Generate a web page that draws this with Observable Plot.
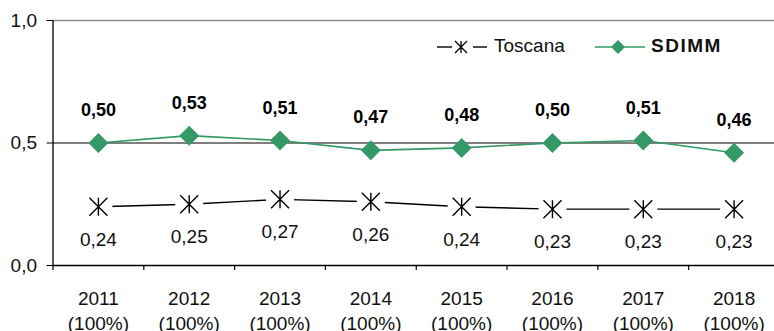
<!DOCTYPE html>
<html><head><meta charset="utf-8">
<script src="https://cdn.jsdelivr.net/npm/d3@7"></script>
<script src="https://cdn.jsdelivr.net/npm/@observablehq/plot@0.6"></script>
<style>
body{margin:0;background:#fff;}
#wrap{position:relative;width:774px;height:331px;overflow:hidden;font-family:"Liberation Sans",Arial,sans-serif;color:#111;}
.lg{position:absolute;font-size:19px;line-height:22px;white-space:nowrap;}
</style></head><body>
<div id="wrap">
  <svg class="lg" style="left:437px;top:39px" width="52" height="16">
    <line x1="0" y1="8" x2="15" y2="8" stroke="#000" stroke-width="1.4"/>
    <path d="M18,2L30,14M30,2L18,14M24,2L24,14" stroke="#000" stroke-width="1.3" fill="none"/>
    <line x1="36" y1="8" x2="50" y2="8" stroke="#000" stroke-width="1.4"/>
  </svg>
  <div class="lg" style="left:494px;top:35px">Toscana</div>
  <svg class="lg" style="left:595px;top:39px" width="52" height="16">
    <line x1="0" y1="8" x2="50" y2="8" stroke="#339966" stroke-width="1.6"/>
    <path d="M23,1L30,8L23,15L16,8Z" fill="#339966"/>
  </svg>
  <div class="lg" style="left:651px;top:35px;font-weight:bold;letter-spacing:1.5px">SDIMM</div>
</div>
<script>
const years = ["2011","2012","2013","2014","2015","2016","2017","2018"];
const coverage = ["(100%)","(100%)","(100%)","(100%)","(100%)","(100%)","(100%)","(100%)"];
const toscana = [0.24,0.25,0.27,0.26,0.24,0.23,0.23,0.23];
const sdimm = [0.50,0.53,0.51,0.47,0.48,0.50,0.51,0.46];
const yTicks = [0, 0.5, 1];

const green = "#339966";
const comma = (f) => (v) => d3.format(f)(v).replace(".", ",");
const tosc = toscana.map((v, i) => ({i: i + 0.5, v}));
const sdm = sdimm.map((v, i) => ({i: i + 0.5, v}));
const star = {draw(ctx, size) {
  const r = Math.sqrt(size / Math.PI);
  ctx.moveTo(-r, -r); ctx.lineTo(r, r);
  ctx.moveTo(r, -r); ctx.lineTo(-r, r);
  ctx.moveTo(0, -r); ctx.lineTo(0, r);
}};

const chart = Plot.plot({
  width: 774,
  height: 331,
  marginLeft: 52.5,
  marginRight: 0,
  marginTop: 20,
  marginBottom: 66,
  style: {fontFamily: "'Liberation Sans', Arial, sans-serif", fontSize: "19px", color: "#111", background: "transparent", overflow: "visible"},
  x: {type: "linear", domain: [0, years.length], range: [52.5, 779], axis: null},
  y: {domain: [0, 1], axis: null},
  marks: [
    Plot.ruleY([1], {stroke: "#8c8c8c", strokeWidth: 1.6}),
    Plot.ruleY([0.5], {stroke: "#000", strokeWidth: 1.2}),
    Plot.ruleY([0], {stroke: "#000", strokeWidth: 1.3}),
    Plot.ruleX([0], {y1: 0, y2: 1, stroke: "#000", strokeWidth: 1.3}),
    Plot.axisX(d3.range(0, years.length), {tickSize: 5, tickFormat: () => "", label: null, stroke: "#000", strokeWidth: 1.2}),
    Plot.axisX(years.map((d, i) => i + 0.5), {
      tickSize: 0, tickPadding: 22, fontSize: 19, lineHeight: 1.3, label: null,
      tickFormat: (d) => years[Math.floor(d)] + "\n" + coverage[Math.floor(d)]
    }),
    Plot.axisY(yTicks, {tickSize: 6, tickPadding: 10, fontSize: 19, label: null, tickFormat: comma(".1f"), stroke: "#000"}),
    Plot.line(tosc, {x: "i", y: "v", stroke: "#000", strokeWidth: 1.4}),
    Plot.dot(tosc, {x: "i", y: "v", r: 14, fill: "#fff", stroke: null}),
    Plot.dot(tosc, {x: "i", y: "v", r: 9, symbol: star, stroke: "#000", strokeWidth: 1.4, fill: "none"}),
    Plot.line(sdm, {x: "i", y: "v", stroke: green, strokeWidth: 1.6}),
    Plot.dot(sdm, {x: "i", y: "v", r: 9, symbol: "diamond2", fill: green, stroke: null}),
    Plot.text(sdm, {x: "i", y: "v", text: (d) => comma(".2f")(d.v), dy: -27, lineAnchor: "bottom", fontWeight: "bold", fontSize: 18, fill: "#000"}),
    Plot.text(tosc, {x: "i", y: "v", text: (d) => comma(".2f")(d.v), dy: 39, lineAnchor: "bottom", fontSize: 19, fill: "#111"})
  ]
});
chart.style.position = "absolute";
chart.style.left = "0";
chart.style.top = "0";
document.getElementById("wrap").prepend(chart);
</script>
</body></html>
